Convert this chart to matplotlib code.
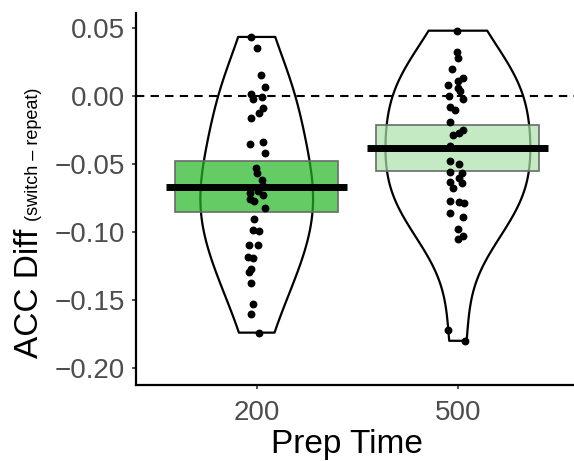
import numpy as np
import matplotlib.pyplot as plt
from matplotlib.patches import Rectangle

plt.rcParams['font.family'] = ['Liberation Sans', 'DejaVu Sans']

# switch - repeat accuracy difference per participant
prep_times = ['200', '500']

acc_200 = [0.0434, 0.035, 0.0152, 0.0069, 0.0012, -0.0025, -0.0007, -0.0086,
           -0.0123, -0.0159, -0.0338, -0.0355, -0.0417, -0.0527, -0.0564,
           -0.062, -0.0662, -0.0699, -0.0711, -0.0728, -0.076, -0.0772,
           -0.0821, -0.0902, -0.0988, -0.0993, -0.1098, -0.1098, -0.1184,
           -0.1189, -0.127, -0.1294, -0.1377, -0.1532, -0.1605, -0.174]
jit_200 = [-0.026, 0.003, 0.02, 0.043, -0.03, -0.018, 0.025, 0.033,
           0.01, -0.03, 0.03, -0.032, 0.043, -0.003, 0.0,
           0.025, 0.03, 0.006, -0.035, 0.033, -0.035, -0.015,
           0.04, -0.013, -0.018, 0.01, -0.038, 0.006, -0.043,
           -0.018, -0.026, -0.038, -0.026, -0.018, -0.026, 0.013]

acc_500 = [0.048, 0.032, 0.028, 0.020, 0.013, 0.011, 0.008, 0.006, 0.004,
           0.000, -0.002, -0.008, -0.010, -0.019, -0.025, -0.027, -0.029,
           -0.037, -0.048, -0.050, -0.056, -0.057, -0.060, -0.063, -0.064,
           -0.068, -0.077, -0.078, -0.079, -0.086, -0.089, -0.098, -0.103,
           -0.105, -0.172, -0.180]
jit_500 = [-0.006, -0.006, 0.002, -0.031, 0.027, 0.002, -0.048, 0.0, 0.01,
           -0.045, 0.023, -0.04, -0.015, -0.04, 0.023, 0.003, -0.023,
           -0.04, -0.04, 0.005, -0.04, 0.02, 0.005, -0.04, 0.02,
           -0.023, -0.04, 0.005, 0.03, -0.04, 0.027, 0.0, 0.027,
           0.0, -0.048, 0.033]

mean_diff = [-0.067, -0.038]
ci_low = [-0.0853, -0.0551]
ci_high = [-0.0478, -0.0213]

groups = [acc_200, acc_500]
jitters = [jit_200, jit_500]
violin_widths = [0.56, 0.72]
box_colors = [(0.143, 0.714, 0.143, 0.7), (0.675, 0.888, 0.675, 0.7)]


def nrd0(v, adjust=1.0):
    # R's default bandwidth (bw.nrd0), times adjust
    v = np.asarray(v)
    sd = np.std(v, ddof=1)
    iqr = np.subtract(*np.percentile(v, [75, 25]))
    return adjust * 0.9 * min(sd, iqr / 1.34) * len(v) ** -0.2


fig = plt.figure(figsize=(5.74, 4.61), dpi=100)
ax = fig.add_axes([136 / 574, 76 / 461, 438 / 574, 372 / 461])

for i, vals in enumerate(groups):
    pos = i + 1
    bw = nrd0(vals, 1.45) / np.std(vals, ddof=1)
    vp = ax.violinplot(vals, positions=[pos], widths=violin_widths[i],
                       showextrema=False, bw_method=bw, points=200)
    for body in vp['bodies']:
        body.set_facecolor('none')
        body.set_edgecolor('black')
        body.set_linewidth(1.6)
        body.set_alpha(1)
        body.set_zorder(1)

    ax.add_patch(Rectangle((pos - 0.405, ci_low[i]), 0.81, ci_high[i] - ci_low[i],
                           facecolor=box_colors[i], edgecolor='#6a6a6a',
                           linewidth=1.2, zorder=2))
    ax.plot([pos - 0.45, pos + 0.45], [mean_diff[i], mean_diff[i]],
            color='black', linewidth=5, solid_capstyle='butt', zorder=3)
    ax.scatter(pos + np.array(jitters[i]), vals, s=32, color='black',
               linewidths=0, zorder=4)

ax.axhline(0, color='black', linewidth=1.5, dashes=(4, 3), zorder=2.5)

ax.set_xlim(0.4, 2.577)
ax.set_ylim(-0.2125, 0.061)
ax.set_xticks([1, 2])
ax.set_xticklabels(prep_times)
ax.set_yticks([0.05, 0.0, -0.05, -0.10, -0.15, -0.20])
ax.set_yticklabels(['0.05', '0.00', '\u22120.05', '\u22120.10',
                    '\u22120.15', '\u22120.20'])

for s in ['top', 'right']:
    ax.spines[s].set_visible(False)
for s in ['left', 'bottom']:
    ax.spines[s].set_linewidth(1.6)
    ax.spines[s].set_color('black')

ax.tick_params(axis='both', length=3, width=1.2, color='#333333',
               labelsize=20, labelcolor='#4d4d4d')
ax.tick_params(axis='y', pad=5)
ax.tick_params(axis='x', pad=8)

fig.text(346.5 / 574, 8 / 461, 'Prep Time', ha='center', va='baseline',
         fontsize=24)

t1 = fig.text(38 / 574, 103 / 461, 'ACC Diff', rotation=90,
              rotation_mode='anchor', ha='left', va='baseline', fontsize=24)
renderer = fig.canvas.get_renderer()
bb = t1.get_window_extent(renderer)
fig.text(38 / 574, (bb.y1 + 8) / 461, '(switch \u2013 repeat)', rotation=90,
         rotation_mode='anchor', ha='left', va='baseline', fontsize=13)

fig.savefig('out.png', dpi=100)
